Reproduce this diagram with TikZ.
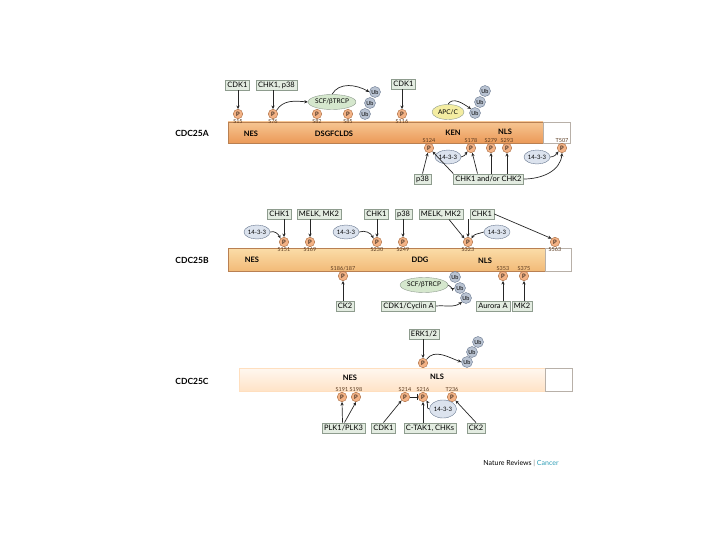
\documentclass[tikz,border=0pt]{standalone}
\usepackage{fontspec}
\setmainfont{Lato}
\usetikzlibrary{arrows.meta, shapes.geometric}

\definecolor{boxfill}{HTML}{E3ECE1}
\definecolor{boxline}{HTML}{8E9C8E}
\definecolor{pfill}{HTML}{F3B285}
\definecolor{pline}{HTML}{A86A3E}
\definecolor{ubfill}{HTML}{B9C3D2}
\definecolor{ubline}{HTML}{687890}
\definecolor{fourteen}{HTML}{DCE3EE}
\definecolor{scffill}{HTML}{D5E7CD}
\definecolor{apcfill}{HTML}{F4EDA2}
\definecolor{sitec}{HTML}{5A3A20}
\definecolor{barline}{HTML}{B98052}
\definecolor{tailline}{HTML}{B8B0A8}
\definecolor{arrowc}{HTML}{262626}
\definecolor{cancer}{HTML}{2E9DB5}
\definecolor{barAtop}{HTML}{F6C592}
\definecolor{barAbot}{HTML}{EB9A58}
\definecolor{barBtop}{HTML}{FBDDA8}
\definecolor{barBbot}{HTML}{F2BA78}

\newcommand{\fsz}[1]{\fontsize{#1}{#1}\selectfont}

\begin{document}
\begin{tikzpicture}[x=1pt, y=-1pt,
  kin/.style={rectangle, draw=boxline, fill=boxfill, line width=0.4pt,
              inner xsep=2pt, inner ysep=0pt, minimum height=10.5pt, font=\fsz{7.5}},
  phos/.style={circle, draw=pline, fill=pfill, line width=0.4pt, inner sep=0pt,
               minimum size=9.5pt, font=\fsz{6}},
  ubq/.style={circle, draw=ubline, fill=ubfill, line width=0.4pt, inner sep=0pt,
              minimum size=11pt, font=\fsz{5.5}},
  site/.style={inner sep=0.3pt, font=\fsz{5.5}, text=sitec},
  bar/.style={rectangle, draw=barline, line width=0.4pt, inner sep=0pt},
  tail/.style={rectangle, draw=tailline, fill=white, line width=0.4pt, inner sep=0pt},
  dom/.style={font=\bfseries\fsz{7.5}},
  prot/.style={font=\bfseries\fsz{8.5}},
  adaptor/.style={ellipse, draw=ubline, fill=fourteen, line width=0.4pt, inner sep=0pt,
                  minimum width=25pt, minimum height=14pt, font=\fsz{6}},
  ligase/.style={ellipse, draw=boxline, line width=0.4pt, inner sep=0pt,
                 minimum height=15pt, font=\fsz{6.5}},
  arrow/.style={->, >={Stealth[length=3.5pt, width=3.2pt]}, line width=0.7pt, draw=arrowc},
  inhib/.style={-{Bar[width=6pt]}, line width=0.7pt, draw=arrowc}
]
\useasboundingbox (0,0) rectangle (720,540);

% CDC25A (y=132)
\node[prot] at (192,133) (nameA) {CDC25A};
\node[bar, top color=barAtop, bottom color=barAbot,
      minimum width=315pt, minimum height=21pt] at (385.5,132.5) (barA) {};
\node[tail, minimum width=27pt, minimum height=21pt] at (556.5,132.5) (tailA) {};
\node[dom] at (251,134) (nesA) {NES};
\node[dom] at (334,134) (dsgA) {DSGFCLDS};
\node[dom] at (453,133) (kenA) {KEN};
\node[dom] at (505,132) (nlsA) {NLS};

\node[phos, label={[site]below:S15}]  at (238,114) (pA15)  {P};
\node[phos, label={[site]below:S76}]  at (273,114) (pA76)  {P};
\node[phos, label={[site]below:S82}]  at (317,114) (pA82)  {P};
\node[phos, label={[site]below:S85}]  at (348,114) (pA85)  {P};
\node[phos, label={[site]below:S116}] at (402,114) (pA116) {P};
\node[phos, label={[site]above:S124}] at (429,148) (pA124) {P};
\node[phos, label={[site]above:S178}] at (471,148) (pA178) {P};
\node[phos, label={[site]above:S279}] at (491,148) (pA279) {P};
\node[phos, label={[site]above:S293}] at (507,148) (pA293) {P};
\node[phos, label={[site]above:T507}] at (562,148) (pA507) {P};

\node[ubq] at (365,114) (ubA1) {Ub};
\node[ubq] at (370,103) (ubA2) {Ub};
\node[ubq] at (375,92)  (ubA3) {Ub};
\node[ubq] at (475,113) (ubA4) {Ub};
\node[ubq] at (480,102) (ubA5) {Ub};
\node[ubq] at (485,91)  (ubA6) {Ub};

\node[ligase, fill=scffill] at (332,102) (scfA) {SCF/βTRCP};
\node[ligase, fill=apcfill, minimum width=32pt] at (448,112) (apcA) {APC/C};
\node[adaptor] at (448,157) (fA1) {14-3-3};
\node[adaptor] at (537,157) (fA2) {14-3-3};

\node[kin] at (237.5,85) (kA1) {CDK1};
\node[kin] at (276.5,85) (kA2) {CHK1, p38};
\node[kin] at (403.5,84) (kA3) {CDK1};
\node[kin] at (422.5,179) (kA4) {p38};
\node[kin] at (488.5,179) (kA5) {CHK1 and/or CHK2};

% Arrows A
\draw[arrow] (kA1.south -| pA15) -- (pA15);
\draw[arrow] (kA2.south -| pA76) -- (pA76);
\draw[arrow] (kA3.south -| pA116) -- (pA116);
\draw[arrow] (pA76.north east) to[out=60, in=175] (scfA.west);
\draw[arrow] (scfA.north) to[out=60, in=150] (ubA3.west);
\draw[arrow] (apcA.north) to[out=60, in=145] (ubA4.north west);
\draw[arrow] (kA4.north) -- (pA124);
\draw[arrow] (kA5.north west) -- (pA124.south east);
\draw[arrow] ([xshift=-11pt]kA5.north) -- (pA178);
\draw[arrow] (kA5.north -| pA279) -- (pA279);
\draw[arrow] (kA5.north -| pA293) -- (pA293);
\draw[arrow] (kA5.east) to[out=0, in=-95] (pA507.south);
\draw[arrow] (fA1.east) to[out=0, in=-130] (pA178.south west);
\draw[arrow] (fA2.east) to[out=0, in=-130] (pA507.south west);

% CDC25B (y=259)
\node[prot] at (192,260) (nameB) {CDC25B};
\node[bar, top color=barBtop, bottom color=barBbot,
      minimum width=317pt, minimum height=23pt] at (386.5,259.5) (barB) {};
\node[tail, minimum width=26pt, minimum height=23pt] at (558,259.5) (tailB) {};
\node[dom] at (252,260) (nesB) {NES};
\node[dom] at (420,260) (ddgB) {DDG};
\node[dom] at (485,261) (nlsB) {NLS};

\node[phos, label={[site]below:S151}] at (284,242) (pB151) {P};
\node[phos, label={[site]below:S169}] at (310,242) (pB169) {P};
\node[phos, label={[site]below:S230}] at (377,242) (pB230) {P};
\node[phos, label={[site]below:S249}] at (403,242) (pB249) {P};
\node[phos, label={[site]below:S323}] at (468,242) (pB323) {P};
\node[phos, label={[site]below:S563}] at (555,242) (pB563) {P};
\node[phos, label={[site]above:S186/187}] at (343,276) (pB186) {P};
\node[phos, label={[site]above:S353}] at (503,276) (pB353) {P};
\node[phos, label={[site]above:S375}] at (524,276) (pB375) {P};

\node[ubq] at (455,277) (ubB1) {Ub};
\node[ubq] at (460,288) (ubB2) {Ub};
\node[ubq] at (466,298) (ubB3) {Ub};

\node[adaptor] at (257,232) (fB1) {14-3-3};
\node[adaptor] at (346,232) (fB2) {14-3-3};
\node[adaptor] at (497,232) (fB3) {14-3-3};
\node[ligase, fill=scffill] at (424,285) (scfB) {SCF/βTRCP};

\node[kin] at (279.5,214) (kB1)  {CHK1};
\node[kin] at (319,214)   (kB2)  {MELK, MK2};
\node[kin] at (376.5,214) (kB3)  {CHK1};
\node[kin] at (403.5,214) (kB4)  {p38};
\node[kin] at (441,214)   (kB5)  {MELK, MK2};
\node[kin] at (482,214)   (kB6)  {CHK1};
\node[kin] at (345,306)   (kB7)  {CK2};
\node[kin] at (408.5,306) (kB8)  {CDK1/Cyclin A};
\node[kin] at (493,306)   (kB9)  {Aurora A};
\node[kin] at (522,306)   (kB10) {MK2};

% Arrows B
\draw[arrow] (kB1.south -| pB151) -- (pB151);
\draw[arrow] (kB2.south -| pB169) -- (pB169);
\draw[arrow] (kB3.south -| pB230) -- (pB230);
\draw[arrow] (kB4.south -| pB249) -- (pB249);
\draw[arrow] ([xshift=8pt]kB5.south) -- (pB323.north west);
\draw[arrow] (kB6.south -| pB323) -- (pB323);
\draw[arrow] (kB6.east) -- (pB563.north west);
\draw[arrow] (fB1.east) to[out=20, in=115] (pB151.north west);
\draw[arrow] (fB2.east) to[out=20, in=115] (pB230.north west);
\draw[arrow] (fB3.west) to[out=200, in=60] (pB323.north east);
\draw[arrow] (kB7.north -| pB186) -- (pB186);
\draw[arrow] (kB9.north -| pB353) -- (pB353);
\draw[arrow] (kB10.north -| pB375) -- (pB375);
\draw[arrow] (scfB.east) to[out=-10, in=210] (ubB2.west);
\draw[arrow] (kB8.east) to[out=5, in=215] (ubB3.south west);

% CDC25C (y=380)
\node[prot] at (192,381) (nameC) {CDC25C};
\node[bar, draw=orange!25!white, top color=orange!6!white, bottom color=orange!22!white,
      minimum width=306pt, minimum height=23pt] at (392,379.5) (barC) {};
\node[tail, minimum width=27pt, minimum height=23pt] at (558.5,379.5) (tailC) {};
\node[dom] at (350,378) (nesC) {NES};
\node[dom] at (437,377) (nlsC) {NLS};

\node[phos] at (423,363) (pCtop) {P};
\node[phos, label={[site]above:S191}] at (342,397) (pC191) {P};
\node[phos, label={[site]above:S198}] at (356,397) (pC198) {P};
\node[phos, label={[site]above:S214}] at (405,397) (pC214) {P};
\node[phos, label={[site]above:S216}] at (423,397) (pC216) {P};
\node[phos, label={[site]above:T236}] at (452,397) (pC236) {P};

\node[ubq] at (467,362) (ubC1) {Ub};
\node[ubq] at (472,352) (ubC2) {Ub};
\node[ubq] at (478,342) (ubC3) {Ub};
\node[adaptor, minimum width=27pt, minimum height=18pt] at (443,409) (fC1) {14-3-3};

\node[kin] at (424,334)   (kC1) {ERK1/2};
\node[kin] at (343.5,428) (kC2) {PLK1/PLK3};
\node[kin] at (383.5,428) (kC3) {CDK1};
\node[kin] at (430,428)   (kC4) {C-TAK1, CHKs};
\node[kin] at (476,428)   (kC5) {CK2};

% Arrows C
\draw[arrow] (kC1.south -| pCtop) -- (pCtop);
\draw[arrow] (pCtop.north east) to[out=55, in=160] (ubC1.west);
\draw[arrow] ([xshift=-1pt]kC2.north) -- (pC191.south);
\draw[arrow] ([xshift=1pt]kC2.north) -- (pC198.south);
\draw[arrow] (kC3.north) -- (pC214.south west);
\draw[arrow] (kC4.north -| pC216) -- (pC216);
\draw[arrow] (kC5.north) -- (pC236.south east);
\draw[arrow] (fC1.west) to[out=180, in=-60] (pC216.south east);
\draw[inhib] (pC214) -- (pC216);

% Credit
\node[font=\fsz{7}] at (521,463) (credit) {Nature Reviews \textcolor{gray}{|} \textcolor{cancer}{Cancer}};
\end{tikzpicture}
\end{document}
